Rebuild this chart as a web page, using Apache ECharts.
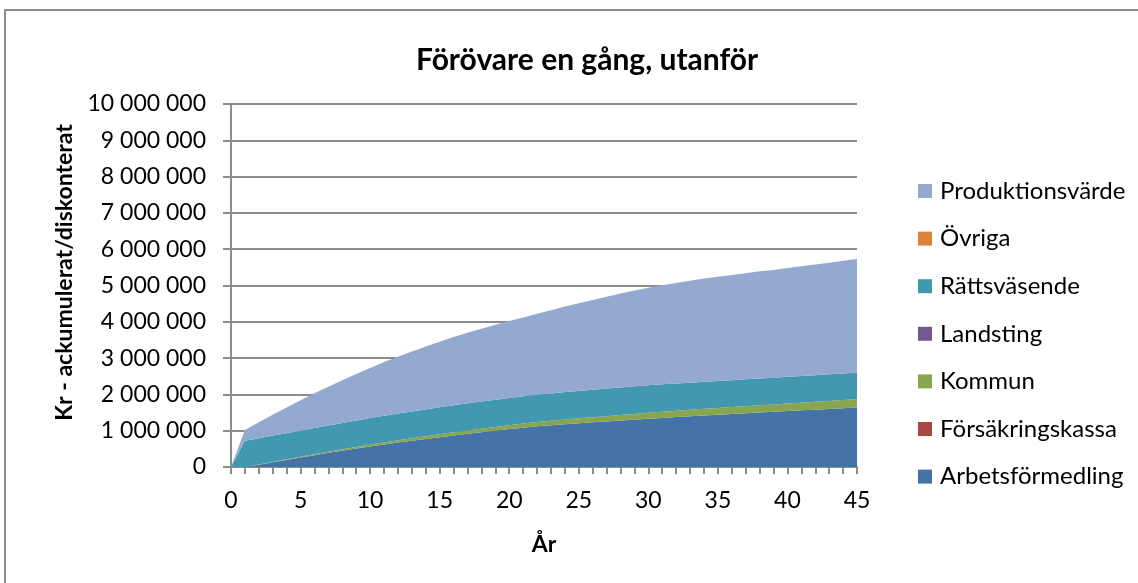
<!DOCTYPE html>
<html>
<head>
<meta charset="utf-8">
<script src="https://cdn.jsdelivr.net/npm/echarts@6/dist/echarts.min.js"></script>
<style>
  html, body { margin: 0; padding: 0; background: #fff; }
  #chart { width: 1138px; height: 583px; }
</style>
</head>
<body>
<div id="chart"></div>
<script>
// years on the x axis
var years = ['0','1','2','3','4','5','6','7','8','9','10','11','12','13','14','15','16','17','18','19','20','21','22','23','24','25','26','27','28','29','30','31','32','33','34','35','36','37','38','39','40','41','42','43','44','45'];

// stacked values, kr (bottom to top)
var arbetsformedling = [0,0,65000,130000,195000,260000,325000,390000,450000,510000,565000,620000,672000,722000,772000,822000,870000,915000,960000,1000000,1045000,1083000,1120000,1150000,1180000,1205000,1230000,1255000,1280000,1305000,1330000,1352000,1374000,1397000,1420000,1440000,1460000,1480000,1500000,1520000,1540000,1560000,1580000,1600000,1620000,1640000];
var forsakringskassa = [0,0,0,0,0,0,0,0,0,0,0,0,0,0,0,0,0,0,0,0,0,0,0,0,0,0,0,0,0,0,0,0,0,0,0,0,0,0,0,0,0,0,0,0,0,0];
var kommun = [0,0,5000,10000,16000,22000,27000,33000,38000,44000,50000,56000,62000,67000,73000,78000,84000,90000,95000,100000,106000,112000,118000,124000,130000,135000,140000,146000,152000,158000,164000,168000,173000,177000,182000,186000,190000,194000,198000,202000,207000,211000,215000,219000,224000,228000];
var landsting = [0,0,0,0,0,0,0,0,0,0,0,0,0,0,0,0,0,0,0,0,0,0,0,0,0,0,0,0,0,0,0,0,0,0,0,0,0,0,0,0,0,0,0,0,0,0];
var rattsvasende = [0,720000,722000,725000,722000,718000,719000,721000,724000,728000,733000,737000,739000,741000,742000,744000,746000,748000,749000,750000,751000,752000,752000,753000,755000,757000,758000,759000,760000,760000,759000,757000,754000,750000,746000,744000,742000,740000,739000,738000,736000,735000,734000,733000,732000,732000];
var ovriga = [0,0,0,0,0,0,0,0,0,0,0,0,0,0,0,0,0,0,0,0,0,0,0,0,0,0,0,0,0,0,0,0,0,0,0,0,0,0,0,0,0,0,0,0,0,0];
var produktionsvarde = [0,300000,438000,575000,707000,840000,959000,1066000,1178000,1278000,1382000,1477000,1567000,1650000,1733000,1806000,1880000,1947000,2006000,2070000,2118000,2173000,2230000,2293000,2355000,2413000,2472000,2530000,2588000,2637000,2687000,2733000,2769000,2806000,2842000,2870000,2898000,2926000,2953000,2970000,2997000,3024000,3051000,3078000,3104000,3130000];

var seriesNames = ['Arbetsförmedling','Försäkringskassa','Kommun','Landsting','Rättsväsende','Övriga','Produktionsvärde'];
var seriesData = [arbetsformedling, forsakringskassa, kommun, landsting, rattsvasende, ovriga, produktionsvarde];
var colors = ['#4572A7','#AA4643','#89A54E','#71588F','#4198AF','#DB843D','#93A9CF'];

var font = 'Lato, "Noto Sans", sans-serif';
var gridColor = '#8c8c8c';

var chart = echarts.init(document.getElementById('chart'));

var series = seriesNames.map(function (name, i) {
  return {
    name: name,
    type: 'line',
    stack: 'total',
    symbol: 'none',
    lineStyle: { width: 0 },
    areaStyle: { color: colors[i], opacity: 1 },
    itemStyle: { color: colors[i] },
    data: seriesData[i]
  };
});

var option = {
  animation: false,
  textStyle: { fontFamily: font },
  title: {
    text: 'Förövare en gång, utanför',
    left: 411,
    top: 40,
    textStyle: { fontFamily: font, fontWeight: 'bold', fontSize: 30, color: '#000' }
  },
  graphic: [{
    type: 'rect',
    shape: { x: 5, y: 10, width: 1200, height: 700 },
    style: { fill: 'none', stroke: gridColor, lineWidth: 2 }
  }],
  legend: {
    orient: 'vertical',
    left: 913,
    top: 174,
    itemWidth: 14,
    itemHeight: 14,
    itemGap: 23.6,
    icon: 'rect',
    data: seriesNames.slice().reverse(),
    textStyle: { fontFamily: font, fontSize: 24, color: '#000', padding: [0, 0, 0, 3] }
  },
  grid: { left: 231, right: 281, top: 104, bottom: 116 },
  xAxis: {
    type: 'category',
    data: years,
    boundaryGap: false,
    name: 'År',
    nameLocation: 'middle',
    nameGap: 66,
    nameTextStyle: { fontFamily: font, fontWeight: 'bold', fontSize: 23, color: '#000' },
    axisLine: { lineStyle: { color: gridColor, width: 2 } },
    axisTick: { interval: 0, length: 7, lineStyle: { color: gridColor, width: 2 } },
    axisLabel: { interval: 4, margin: 22, fontFamily: font, fontSize: 23, color: '#000' },
    splitLine: { show: false }
  },
  yAxis: {
    type: 'value',
    min: 0,
    max: 10000000,
    interval: 1000000,
    name: 'Kr - ackumulerat/diskonterat',
    nameLocation: 'middle',
    nameGap: 155,
    nameRotate: 90,
    nameTextStyle: { fontFamily: font, fontWeight: 'bold', fontSize: 23, color: '#000', padding: [0, 0, 0, 26] },
    axisLine: { show: true, lineStyle: { color: gridColor, width: 2 } },
    axisTick: { show: true, length: 8, lineStyle: { color: gridColor, width: 2 } },
    axisLabel: {
      margin: 25,
      fontFamily: font,
      fontSize: 23,
      color: '#000',
      formatter: function (v) {
        return String(v).replace(/\B(?=(\d{3})+(?!\d))/g, ' ');
      }
    },
    splitLine: { lineStyle: { color: gridColor, width: 2 } }
  },
  series: series
};

chart.setOption(option);
</script>
</body>
</html>
